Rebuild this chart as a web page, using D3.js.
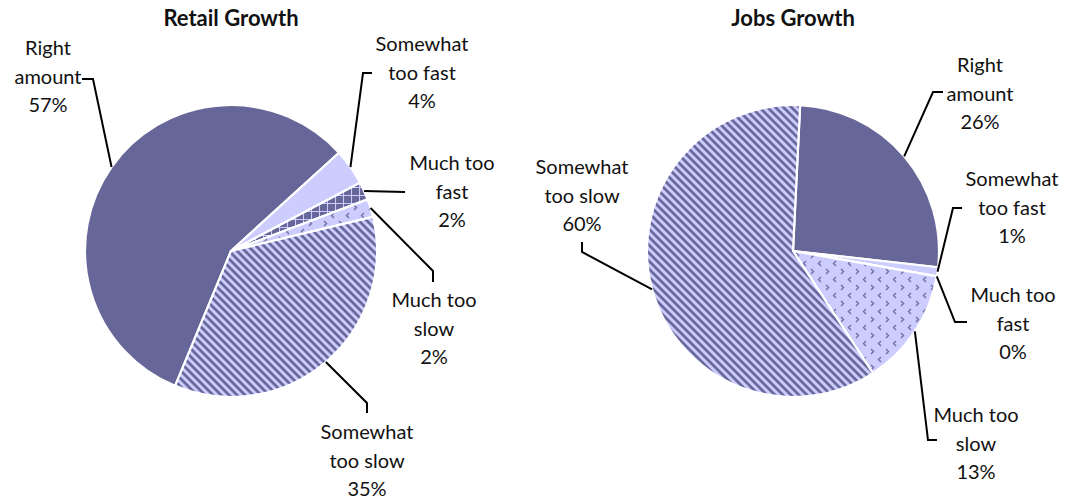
<!DOCTYPE html>
<html>
<head>
<meta charset="utf-8">
<script src="https://cdn.jsdelivr.net/npm/d3@7"></script>
<style>
  html, body { margin: 0; padding: 0; background: #fff; }
  svg { display: block; }
  text { font-family: Lato, "Open Sans", sans-serif; fill: #111; }
</style>
</head>
<body>
<svg id="chart" width="1065" height="502"></svg>
<script>
// Survey answers, in the order the slices run clockwise
const categories = ["Right amount", "Somewhat too fast", "Much too fast", "Much too slow", "Somewhat too slow"];
const labelLines = [["Right", "amount"], ["Somewhat", "too fast"], ["Much too", "fast"], ["Much too", "slow"], ["Somewhat", "too slow"]];
const retailValues = [57, 4, 2, 2, 35];
const jobsValues = [26, 1, 0, 13, 60];
const chartTitles = ["Retail Growth", "Jobs Growth"];

// Layout of each pie and its callouts
const pies = [
  {
    title: chartTitles[0], values: retailValues, cx: 231, cy: 251, r: 146, start: -157.5,
    labels: [
      { x: 48,  y: 48,  elbow: [93, 79],   end: [82, 79] },
      { x: 422, y: 44,  elbow: [363, 73],  end: [372, 73] },
      { x: 452, y: 163, elbow: [405, 192], end: [405, 192] },
      { x: 434, y: 300, elbow: [433, 271], end: [433, 282] },
      { x: 367, y: 432, elbow: [367, 403], end: [367, 413] }
    ]
  },
  {
    title: chartTitles[1], values: jobsValues, cx: 793, cy: 251, r: 146, start: 2.8,
    labels: [
      { x: 980,  y: 65,  elbow: [933, 92],  end: [943, 92] },
      { x: 1012, y: 179, elbow: [953, 208], end: [962, 208] },
      { x: 1013, y: 295, elbow: [955, 322], end: [967, 322] },
      { x: 976,  y: 415, elbow: [928, 440], end: [937, 440] },
      { x: 582,  y: 167, elbow: [582, 252], end: [582, 242] }
    ]
  }
];

const DARK = "#666699", LIGHT = "#ccccff";
const svg = d3.select("#chart");
const defs = svg.append("defs");

// Diagonal stripes
const stripes = defs.append("pattern").attr("id", "stripes")
  .attr("patternUnits", "userSpaceOnUse").attr("width", 10).attr("height", 5.66)
  .attr("patternTransform", "rotate(45)");
stripes.append("rect").attr("width", 10).attr("height", 5.66).attr("fill", LIGHT);
stripes.append("rect").attr("width", 10).attr("height", 2.7).attr("fill", DARK);

// Grid on dark
const grid = defs.append("pattern").attr("id", "grid")
  .attr("patternUnits", "userSpaceOnUse").attr("width", 8).attr("height", 8);
grid.append("rect").attr("width", 8).attr("height", 8).attr("fill", DARK);
grid.append("path").attr("d", "M0,0.5H8M0.5,0V8").attr("stroke", LIGHT).attr("stroke-width", 1.1);

// Small chevrons on light
const chev = defs.append("pattern").attr("id", "chevrons")
  .attr("patternUnits", "userSpaceOnUse").attr("width", 15).attr("height", 16);
chev.append("rect").attr("width", 15).attr("height", 16).attr("fill", LIGHT);
chev.append("path").attr("d", "M3,2L5.5,4.5L3,7M13,10L10.5,12.5L13,15")
  .attr("fill", "none").attr("stroke", "#7474aa").attr("stroke-width", 1.5);

const fills = [DARK, LIGHT, "url(#grid)", "url(#chevrons)", "url(#stripes)"];
const rad = d => d * Math.PI / 180;
const lineH = 28.5;

pies.forEach(p => {
  const pie = d3.pie().sort(null).value(d => d)
    .startAngle(rad(p.start)).endAngle(rad(p.start + 360));
  const arcs = pie(p.values);
  const arc = d3.arc().innerRadius(0).outerRadius(p.r);
  const g = svg.append("g").attr("transform", `translate(${p.cx},${p.cy})`);

  g.selectAll("path").data(arcs).join("path")
    .attr("d", arc)
    .attr("fill", (d, i) => fills[i])
    .attr("stroke", "#fff").attr("stroke-width", 2.2).attr("stroke-linejoin", "round");

  svg.append("text").attr("x", p.cx).attr("y", 26)
    .attr("text-anchor", "middle").attr("font-size", 22).attr("font-weight", "bold")
    .text(p.title);

  arcs.forEach((a, i) => {
    const L = p.labels[i];
    const mid = (a.startAngle + a.endAngle) / 2;
    const px = p.cx + p.r * Math.sin(mid), py = p.cy - p.r * Math.cos(mid);
    svg.append("path")
      .attr("d", d3.line()([[px, py], L.elbow, L.end]))
      .attr("fill", "none").attr("stroke", "#000").attr("stroke-width", 2);

    const lines = labelLines[i].concat([d3.format(".0f")(p.values[i]) + "%"]);
    const t = svg.append("text").attr("text-anchor", "middle").attr("font-size", 20);
    lines.forEach((s, k) => {
      t.append("tspan").attr("x", L.x).attr("y", L.y + k * lineH)
        .attr("dy", "0.35em").text(s);
    });
  });
});
</script>
</body>
</html>
